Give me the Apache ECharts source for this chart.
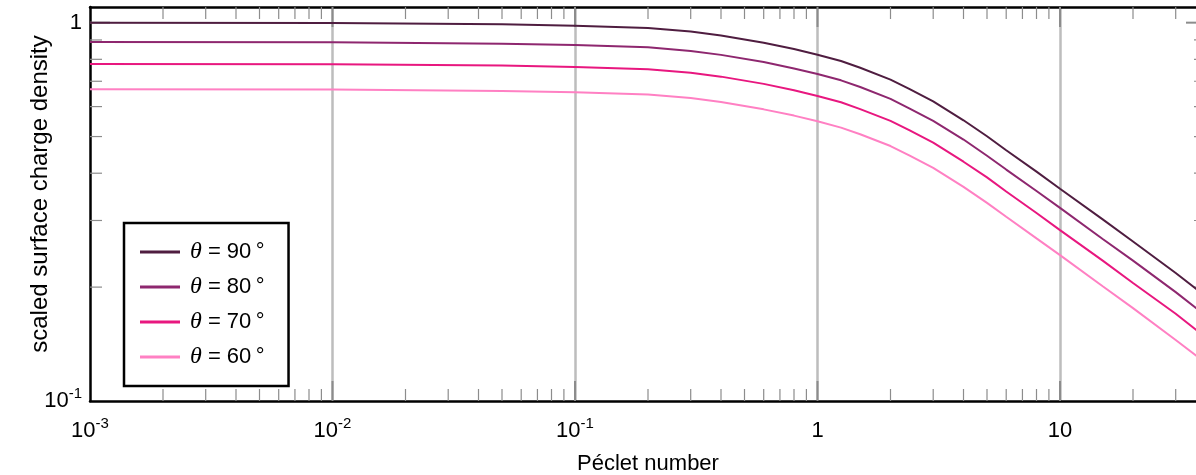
<!DOCTYPE html>
<html>
<head>
<meta charset="utf-8">
<script src="https://cdn.jsdelivr.net/npm/echarts@6/dist/echarts.min.js"></script>
<style>
html,body{margin:0;padding:0;background:#fff;}
#c{width:1196px;height:475px;}
</style>
</head>
<body>
<div id="c"></div>
<script>
// Péclet numbers at which the curves were read
const peclet = [0.001, 0.01, 0.05, 0.1, 0.2, 0.3, 0.4, 0.6, 0.8, 1, 1.25, 1.5, 2, 2.4, 3, 4, 5, 6, 8, 10, 15, 20, 30, 40];
const seriesNames = ['θ = 90\u2009°', 'θ = 80\u2009°', 'θ = 70\u2009°', 'θ = 60\u2009°'];
const theta90 = [1.000, 0.998, 0.990, 0.982, 0.968, 0.947, 0.925, 0.885, 0.852, 0.823, 0.792, 0.760, 0.707, 0.667, 0.619, 0.552, 0.501, 0.460, 0.404, 0.364, 0.302, 0.264, 0.218, 0.189];
const theta80 = [0.889, 0.887, 0.880, 0.873, 0.861, 0.842, 0.822, 0.787, 0.757, 0.732, 0.704, 0.676, 0.629, 0.593, 0.550, 0.491, 0.445, 0.409, 0.359, 0.324, 0.268, 0.235, 0.194, 0.168];
const theta70 = [0.778, 0.776, 0.770, 0.764, 0.753, 0.737, 0.720, 0.689, 0.663, 0.640, 0.616, 0.591, 0.550, 0.519, 0.482, 0.429, 0.390, 0.358, 0.314, 0.283, 0.235, 0.205, 0.170, 0.147];
const theta60 = [0.667, 0.666, 0.660, 0.655, 0.646, 0.632, 0.617, 0.590, 0.568, 0.549, 0.528, 0.507, 0.472, 0.445, 0.413, 0.368, 0.334, 0.307, 0.269, 0.243, 0.201, 0.176, 0.145, 0.126];
const colors = ['#4f1d40', '#8e276f', '#e8177f', '#ff80c3'];

// axis extents and ticks
const xMin = 0.001, xMax = 40, yMin = 0.1, yMax = 1.1;
const xMajorTicks = [0.01, 0.1, 1, 10];
const xMinorTicks = [];
for (let e = -3; e <= 1; e++) {
  for (let k = 2; k <= 9; k++) {
    const v = k * Math.pow(10, e);
    if (v <= xMax + 1e-9) xMinorTicks.push(v);
  }
}
const yMajorTicks = [1];
const yMinorTicks = [0.2, 0.3, 0.4, 0.5, 0.6, 0.7, 0.8, 0.9];

const allData = [theta90, theta80, theta70, theta60];

function decadeLabel(v) {
  const l = Math.log10(v);
  const e = Math.round(l);
  if (Math.abs(l - e) > 1e-6) return '';
  if (e === 0) return '{b|1}';
  if (e === 1) return '{b|10}';
  return '{b|10}{s|' + e + '}';
}
const richLab = {
  b: {fontSize: 22, fontFamily: 'Liberation Sans', color: '#000', lineHeight: 24},
  s: {fontSize: 15, fontFamily: 'Liberation Sans', color: '#000', lineHeight: 24, padding: [0, 0, 14, 0]}
};

const tickColor = '#8c8c8c';

const series = allData.map((arr, i) => ({
  name: seriesNames[i],
  type: 'line',
  xAxisIndex: 0, yAxisIndex: 0,
  data: peclet.map((p, j) => [p, arr[j]]),
  symbol: 'none',
  smooth: false,
  lineStyle: {color: colors[i], width: 2},
  itemStyle: {color: colors[i]},
  z: 5
}));

// x ticks (minor and major) drawn at bottom and top borders
series.push({
  type: 'custom',
  xAxisIndex: 0, yAxisIndex: 0,
  silent: true,
  z: 4,
  data: xMinorTicks.map(v => [v, 0]).concat(xMajorTicks.map(v => [v, 1])),
  renderItem: function (params, api) {
    const v = api.value(0);
    const major = api.value(1) === 1;
    const len = major ? 20 : 12;
    const b = api.coord([v, yMin]);
    const t = api.coord([v, yMax]);
    const style = {stroke: tickColor, lineWidth: major ? 2 : 1.2};
    return {
      type: 'group',
      children: [
        {type: 'line', shape: {x1: b[0], y1: b[1], x2: b[0], y2: b[1] - len}, style: style},
        {type: 'line', shape: {x1: t[0], y1: t[1], x2: t[0], y2: t[1] + len}, style: style}
      ]
    };
  }
});
// y ticks on left and right borders
series.push({
  type: 'custom',
  xAxisIndex: 0, yAxisIndex: 0,
  silent: true,
  z: 4,
  data: yMinorTicks.map(v => [1, v, 0]).concat(yMajorTicks.map(v => [1, v, 1])),
  renderItem: function (params, api) {
    const v = api.value(1);
    const major = api.value(2) === 1;
    const len = major ? 20 : 12;
    const l = api.coord([xMin, v]);
    const r = api.coord([xMax, v]);
    const style = {stroke: tickColor, lineWidth: major ? 2 : 1.2};
    return {
      type: 'group',
      children: [
        {type: 'line', shape: {x1: l[0], y1: l[1], x2: l[0] + len, y2: l[1]}, style: style},
        {type: 'line', shape: {x1: r[0], y1: r[1], x2: r[0] - len, y2: r[1]}, style: style}
      ]
    };
  }
});

const chart = echarts.init(document.getElementById('c'), null, {renderer: 'canvas'});
chart.setOption({
  animation: false,
  backgroundColor: '#fff',
  grid: {left: 90, top: 7, width: 1116, height: 394, containLabel: false, outerBoundsMode: 'none'},
  legend: {
    orient: 'vertical',
    left: 124, top: 223,
    padding: [17, 24, 17, 16],
    itemGap: 11,
    itemWidth: 40,
    itemHeight: 3,
    icon: 'rect',
    borderColor: '#000',
    borderWidth: 2.5,
    backgroundColor: '#fff',
    data: seriesNames,
    formatter: function (name) {
      return '{i|θ}{t|' + name.slice(1) + '}';
    },
    textStyle: {
      padding: [0, 0, 0, 5],
      rich: {
        i: {fontSize: 24, fontFamily: 'Liberation Serif', fontStyle: 'italic', color: '#000', lineHeight: 22},
        t: {fontSize: 22, fontFamily: 'Liberation Sans', color: '#000', lineHeight: 22}
      }
    }
  },
  xAxis: [{
    type: 'log', logBase: 10, min: xMin, max: xMax,
    position: 'bottom',
    name: 'Péclet number',
    nameLocation: 'middle',
    nameGap: 52,
    nameMoveOverlap: false,
    nameTextStyle: {fontSize: 22, fontFamily: 'Liberation Sans', color: '#000'},
    axisLine: {show: true, lineStyle: {color: '#000', width: 2.5}},
    axisTick: {show: false},
    minorTick: {show: false},
    axisLabel: {margin: 18, formatter: decadeLabel, rich: richLab, showMaxLabel: false},
    splitLine: {show: true, showMinLine: false, showMaxLine: false, lineStyle: {color: '#bdbdbd', width: 2.5}}
  }, {
    type: 'log', logBase: 10, min: xMin, max: xMax,
    position: 'top',
    axisLine: {show: true, lineStyle: {color: '#000', width: 2.5}},
    axisTick: {show: false},
    axisLabel: {show: false},
    splitLine: {show: false}
  }],
  yAxis: [{
    type: 'log', logBase: 10, min: yMin, max: yMax,
    position: 'left',
    name: 'scaled surface charge density',
    nameLocation: 'middle',
    nameGap: 38,
    nameMoveOverlap: false,
    nameTextStyle: {fontSize: 24, fontFamily: 'Liberation Sans', color: '#000', padding: [0, 0, 0, 20]},
    axisLine: {show: true, lineStyle: {color: '#000', width: 2.5}},
    axisTick: {show: false},
    axisLabel: {margin: 8, formatter: decadeLabel, rich: richLab, showMaxLabel: false},
    splitLine: {show: false}
  }, {
    type: 'log', logBase: 10, min: yMin, max: yMax,
    position: 'right',
    axisLine: {show: true, lineStyle: {color: '#000', width: 2.5}},
    axisTick: {show: false},
    axisLabel: {show: false},
    splitLine: {show: false}
  }],
  series: series
});
</script>
</body>
</html>
